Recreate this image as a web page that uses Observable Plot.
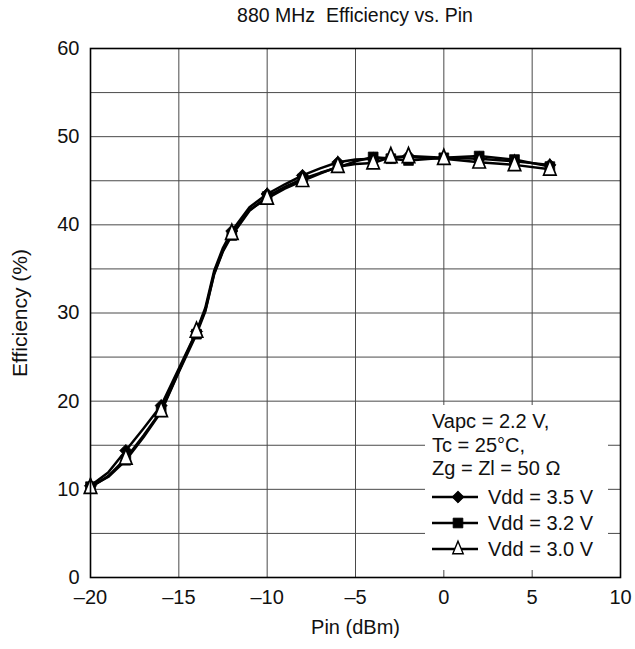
<!DOCTYPE html>
<html>
<head>
<meta charset="utf-8">
<script src="https://cdn.jsdelivr.net/npm/d3@7"></script>
<script src="https://cdn.jsdelivr.net/npm/@observablehq/plot@0.6"></script>
<style>
  body { margin: 0; background: #fff; font-family: "Liberation Sans", Arial, sans-serif; color: #111; }
  #title { box-sizing: border-box; width: 635px; height: 30px; padding-left: 90px; padding-right: 15px;
           text-align: center; font-size: 19.5px; line-height: 30px; white-space: pre; }
  #chart svg { display: block; }
</style>
</head>
<body>
<div id="title">880 MHz  Efficiency vs. Pin</div>
<div id="chart"></div>
<script>
// Input power (dBm) at which each curve is sampled
const pin = [-20, -19, -18, -17, -16, -15, -14, -13.5, -13, -12.5, -12, -11, -10, -9, -8, -7, -6, -5, -4, -3, -2, 0, 2, 4, 6];
// Input powers that carry a measurement marker
const markerPins = [-20, -18, -16, -14, -12, -10, -8, -6, -4, -3, -2, 0, 2, 4, 6];

// Drain efficiency (%) for each supply voltage
const eff35 = [10.4, 11.9, 14.4, 16.9, 19.5, 23.7, 27.9, 30.6, 34.8, 37.4, 39.3, 42.0, 43.5, 44.6, 45.6, 46.4, 47.1, 47.4, 47.5, 47.6, 47.8, 47.6, 47.5, 47.2, 46.8];
const eff32 = [10.3, 11.4, 13.3, 15.9, 18.8, 23.3, 27.6, 30.2, 34.4, 37.0, 38.8, 41.6, 43.2, 44.3, 45.2, 45.9, 46.5, 47.2, 47.7, 47.5, 47.3, 47.6, 47.8, 47.4, 46.6];
const eff30 = [10.2, 11.5, 13.5, 16.1, 18.9, 23.4, 27.9, 30.3, 34.5, 37.1, 39.0, 41.7, 43.0, 44.1, 45.0, 45.8, 46.6, 46.9, 47.0, 47.7, 47.7, 47.5, 47.1, 46.8, 46.3];

const seriesNames = ["Vdd = 3.5 V", "Vdd = 3.2 V", "Vdd = 3.0 V"];
const conditions = ["Vapc = 2.2 V,", "Tc = 25°C,", "Zg = Zl = 50 Ω"];

// Axis ticks
const xTicks = [-20, -15, -10, -5, 0, 5, 10];
const yTicks = [0, 10, 20, 30, 40, 50, 60];
const yGrid = [0, 5, 10, 15, 20, 25, 30, 35, 40, 45, 50, 55, 60];

// Narrow open triangle used for the 3.0 V curve
const narrowTriangle = {
  draw(context, size) {
    const s = Math.sqrt(size);
    const h = s * 1.55, w = s * 0.64;
    context.moveTo(0, -h * 0.62);
    context.lineTo(w, h * 0.38);
    context.lineTo(-w, h * 0.38);
    context.closePath();
  }
};

const symbols = [d3.symbolDiamond2, d3.symbolSquare, narrowTriangle];
const fills = ["black", "black", "white"];

const series = [eff35, eff32, eff30].map((vals, i) => ({
  name: seriesNames[i],
  rows: pin.map((p, j) => ({pin: p, eff: vals[j], name: seriesNames[i]}))
}));

const fmt = d => d < 0 ? "\u2013" + (-d) : String(d);

const W = 635, H = 619;
const M = {top: 18, right: 15, bottom: 72, left: 90};
const R = 5.5;

const marks = [
  Plot.gridX(xTicks, {stroke: "#4a4a4a", strokeOpacity: 1, strokeWidth: 1}),
  Plot.gridY(yGrid, {stroke: "#4a4a4a", strokeOpacity: 1, strokeWidth: 1}),
  Plot.axisX(xTicks, {tickSize: 0, tickPadding: 12, tickFormat: fmt, fontSize: 20, label: null}),
  Plot.axisY(yTicks, {tickSize: 0, tickPadding: 11, fontSize: 20, label: null}),
  Plot.text(["Pin (dBm)"], {frameAnchor: "bottom", textAnchor: "middle", dy: 56, fontSize: 20, fill: "#111"}),
  Plot.text(["Efficiency (%)"], {frameAnchor: "left", textAnchor: "middle", dx: -70, rotate: -90, fontSize: 21, fill: "#111"}),
  ...series.map(s => Plot.line(s.rows, {x: "pin", y: "eff", stroke: "black", strokeWidth: 2.5})),
  ...series.map((s, i) => Plot.dot(s.rows.filter(d => markerPins.includes(d.pin)), {
    x: "pin", y: "eff", symbol: () => symbols[i], r: R,
    fill: fills[i], stroke: "black", strokeWidth: i === 2 ? 1.7 : 0.8
  })),
  Plot.frame({stroke: "black", strokeWidth: 1.6})
];

const plot = Plot.plot({
  width: W, height: H,
  marginTop: M.top, marginRight: M.right, marginBottom: M.bottom, marginLeft: M.left,
  style: {fontFamily: "'Liberation Sans', Arial, sans-serif", fontSize: "20px", color: "#111", background: "white"},
  x: {domain: [-20, 10]},
  y: {domain: [0, 60]},
  symbol: {type: "identity"},
  marks
});

document.getElementById("chart").appendChild(plot);

// Legend box in the lower right corner of the frame
const svg = d3.select(plot);
const fr = W - M.right, fb = H - M.bottom;
const frameLine = svg.select("g[aria-label=frame]").node();
const g = svg.append("g").attr("font-size", 20).attr("fill", "#111").attr("text-anchor", "start");
g.append("rect").attr("x", fr - 195).attr("y", fb - 172).attr("width", 183).attr("height", 165).attr("fill", "white");
conditions.forEach((t, i) => {
  g.append("text").attr("x", fr - 188).attr("y", fb - 156 + i * 23.5).attr("dy", "0.35em").text(t);
});
seriesNames.forEach((t, i) => {
  const cy = fb - 80 + i * 26;
  g.append("line").attr("x1", fr - 188).attr("x2", fr - 142).attr("y1", cy).attr("y2", cy)
    .attr("stroke", "black").attr("stroke-width", 2.4);
  const size = R * R * Math.PI * (i === 2 ? 0.7 : 1);
  g.append("path").attr("d", d3.symbol(symbols[i], size)()).attr("transform", `translate(${fr - 162},${cy})`)
    .attr("fill", fills[i]).attr("stroke", "black").attr("stroke-width", i === 2 ? 1.4 : 0.8);
  g.append("text").attr("x", fr - 132).attr("y", cy).attr("dy", "0.35em").text(t);
});
// keep the frame on top of the legend box
if (frameLine) plot.appendChild(frameLine);
</script>
</body>
</html>
